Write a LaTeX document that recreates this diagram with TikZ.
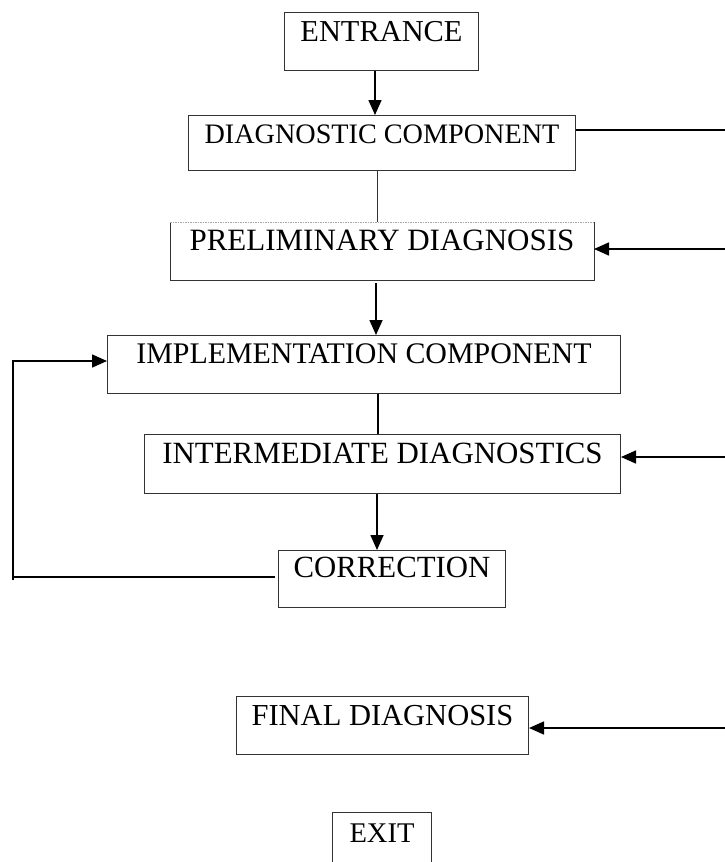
\documentclass[tikz,border=0pt]{standalone}
\usepackage{fontspec}
\setmainfont{Liberation Serif}
\usetikzlibrary{arrows.meta}
\definecolor{boxgray}{gray}{0.2}
\tikzset{
  box/.style={rectangle, draw=boxgray, line width=1pt, inner sep=0pt, anchor=north west, align=center},
  flow/.style={line width=1.6pt, -{Triangle[length=15pt,width=13pt]}},
  plain/.style={line width=1.6pt},
  thin/.style={line width=1pt, draw=boxgray},
}
\newcommand{\fs}[1]{\fontsize{#1}{#1}\selectfont}
\begin{document}
\begin{tikzpicture}[x=1pt,y=-1pt]
\useasboundingbox (0,0) rectangle (725,862);
\clip (0,0) rectangle (725,862);
% boxes
\node[box, minimum width=194pt, text height=29pt, text depth=29pt, font=\fs{30.4}] (ent) at (284,12) {ENTRANCE};
\node[box, minimum width=387pt, text height=28pt, text depth=27pt, font=\fs{28.2}] (diag) at (188,115) {DIAGNOSTIC COMPONENT};
\node[box, draw=none, minimum width=423pt, text height=28pt, text depth=29pt, font=\fs{31}] (prel) at (170,222) {PRELIMINARY DIAGNOSIS};
\draw[thin] (prel.north east) -- (prel.south east) -- (prel.south west) -- (prel.north west);
\draw[line width=0.6pt, gray!70, dash pattern=on 1.5pt off 1pt] (prel.north west) -- (prel.north east);
\node[box, minimum width=513pt, text height=28pt, text depth=30pt, font=\fs{29.9}] (impl) at (107,335) {IMPLEMENTATION COMPONENT};
\node[box, minimum width=476pt, text height=29pt, text depth=30pt, font=\fs{30.9}] (inter) at (144,434) {INTERMEDIATE DIAGNOSTICS};
\node[box, minimum width=227pt, text height=27pt, text depth=30pt, font=\fs{30.8}] (corr) at (278,550) {CORRECTION};
\node[box, minimum width=292pt, text height=29pt, text depth=29pt, font=\fs{30.5}] (final) at (236,696) {FINAL DIAGNOSIS};
\node[box, minimum width=99pt, text height=30pt, text depth=28pt, font=\fs{28.5}] (exit) at (332,812) {EXIT};
% free ends
\coordinate (r1) at (725,130);
\coordinate (r2) at (725,249);
\coordinate (r3) at (725,457);
\coordinate (r4) at (725,728);
\coordinate (lb) at (13,577);
\coordinate (lt) at (13,361);
% connectors
\draw[flow] (ent.south -| 375,0) -- (diag.north -| 375,0);
\draw[plain] (diag.east |- r1) -- (r1);
\draw[thin] (diag.south -| 377,0) -- (prel.north -| 377,0);
\draw[flow] (r2) -- (prel.east |- r2);
\draw[flow] ([yshift=-3pt]prel.south -| 376,0) -- (impl.north -| 376,0);
\draw[plain] (impl.south -| 378,0) -- (inter.north -| 378,0);
\draw[flow] (r3) -- (inter.east |- r3);
\draw[flow] (inter.south -| 377,0) -- (corr.north -| 377,0);
\draw[plain] ([xshift=-3pt]corr.west |- lb) -- (lb);
\draw[flow] ([yshift=-3pt]lb) -- (lt) -- (impl.west |- lt);
\draw[flow] (r4) -- (final.east |- r4);
\end{tikzpicture}
\end{document}
